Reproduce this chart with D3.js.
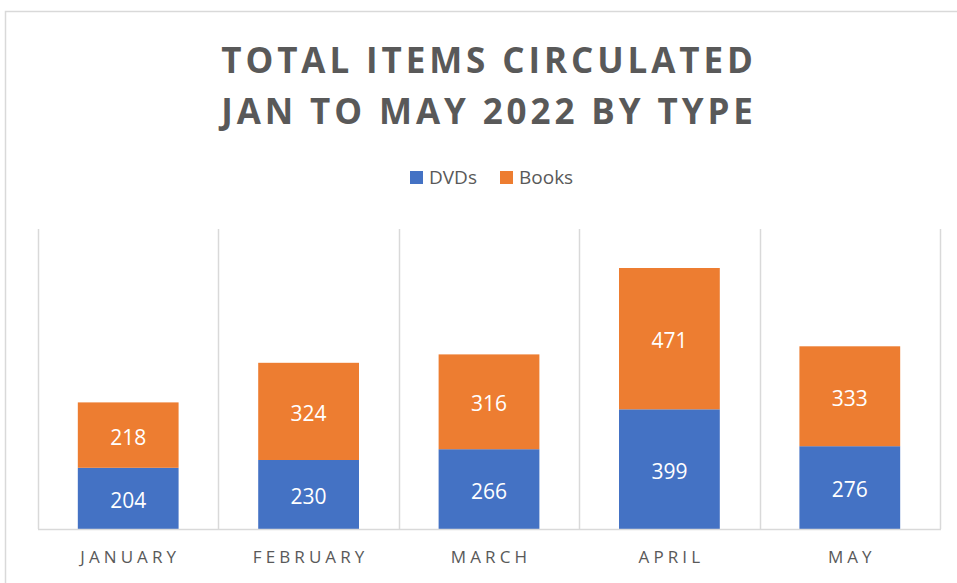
<!DOCTYPE html>
<html>
<head>
<meta charset="utf-8">
<script src="https://cdn.jsdelivr.net/npm/d3@7"></script>
<style>
  body { margin: 0; background: #fff; }
  svg { display: block; font-family: "Open Sans", sans-serif; }
</style>
</head>
<body>
<div id="chart"></div>
<script>
var months = ["JANUARY", "FEBRUARY", "MARCH", "APRIL", "MAY"];
var seriesNames = ["DVDs", "Books"];
var dvds = [204, 230, 266, 399, 276];
var books = [218, 324, 316, 471, 333];
var titleLines = ["TOTAL ITEMS CIRCULATED", "JAN TO MAY 2022 BY TYPE"];

var w = 957, h = 583;
var colors = {"DVDs": "#4472C4", "Books": "#ED7D31"};
var grey = "#595959";

var svg = d3.select("#chart").append("svg")
	.attr("width", w)
	.attr("height", h)

// chart frame (runs past the right and bottom edges)
svg.append("rect")
	.attr("x", 5.5)
	.attr("y", 11.5)
	.attr("width", 980)
	.attr("height", 620)
	.style("fill", "none")
	.style("stroke", "#d9d9d9")
	.style("stroke-width", 1.5)

var table = months.map(function(m, i) {
	return {month: m, DVDs: dvds[i], Books: books[i]};
})
var stacked = d3.stack().keys(seriesNames)(table);

var margin = {left: 38, right: 17, top: 229, bottom: 54};

var x = d3.scaleBand()
	.domain(months)
	.range([margin.left, w - margin.right])
	.paddingInner(0)
	.paddingOuter(0)

var y = d3.scaleLinear()
	.domain([0, 1000])
	.range([h - margin.bottom, margin.top])

var barW = x.bandwidth() / 1.79;

// vertical gridlines at category boundaries
var bounds = months.map(function(m) { return x(m); }).concat([x.range()[1]]);
svg.selectAll(".grid")
	.data(bounds)
	.enter()
	.append("line")
	.attr("class", "grid")
	.attr("x1", function(d) { return Math.round(d) + 0.5 })
	.attr("x2", function(d) { return Math.round(d) + 0.5 })
	.attr("y1", y(1000))
	.attr("y2", y(0))
	.style("stroke", "#d9d9d9")
	.style("stroke-width", 1.5)

// bars
var layers = svg.selectAll(".layer")
	.data(stacked)
	.enter()
	.append("g")
	.attr("class", "layer")
	.style("fill", function(d) { return colors[d.key] })

layers.selectAll("rect")
	.data(function(d) { return d; })
	.enter()
	.append("rect")
	.attr("x", function(d) { return x(d.data.month) + (x.bandwidth() - barW) / 2 })
	.attr("width", barW)
	.attr("y", function(d) { return y(d[1]) })
	.attr("height", function(d) { return y(d[0]) - y(d[1]) })

layers.selectAll("text")
	.data(function(d) { return d; })
	.enter()
	.append("text")
	.text(function(d) { return d[1] - d[0] })
	.attr("x", function(d) { return x(d.data.month) + x.bandwidth() / 2 })
	.attr("y", function(d) { return (y(d[0]) + y(d[1])) / 2 })
	.attr("dy", "0.45em")
	.style("fill", "#fff")
	.style("font-size", "21px")
	.style("text-anchor", "middle")

// baseline
svg.append("line")
	.attr("x1", x.range()[0])
	.attr("x2", x.range()[1] + 1)
	.attr("y1", y(0) + 0.5)
	.attr("y2", y(0) + 0.5)
	.style("stroke", "#d9d9d9")
	.style("stroke-width", 1.5)

// category axis
var xAxis = d3.axisBottom(x).tickSize(0).tickPadding(0);
var gx = svg.append("g")
	.attr("transform", "translate(0," + y(0) + ")")
	.call(xAxis)
gx.select(".domain").remove();
gx.selectAll("text")
	.attr("dy", null)
	.attr("y", 34)
	.attr("dx", "2px")
	.style("font-family", "'Open Sans', sans-serif")
	.style("font-size", "17px")
	.style("letter-spacing", "4.1px")
	.style("fill", grey)

// title
svg.selectAll(".title")
	.data(titleLines)
	.enter()
	.append("text")
	.attr("class", "title")
	.text(function(d) { return d })
	.attr("x", 489)
	.attr("y", function(d, i) { return 73 + i * 51 })
	.style("font-size", "35px")
	.style("font-weight", 700)
	.style("letter-spacing", "3.9px")
	.style("text-anchor", "middle")
	.style("fill", grey)

// legend
var legend = svg.selectAll(".legend")
	.data(seriesNames)
	.enter()
	.append("g")
	.attr("class", "legend")
	.attr("transform", function(d, i) { return "translate(" + (410 + i * 90) + ",171)" })

legend.append("rect")
	.attr("width", 13)
	.attr("height", 13)
	.style("fill", function(d) { return colors[d] })

legend.append("text")
	.text(function(d) { return d })
	.attr("x", 19)
	.attr("y", 13)
	.style("font-size", "19px")
	.style("fill", grey)
</script>
</body>
</html>
